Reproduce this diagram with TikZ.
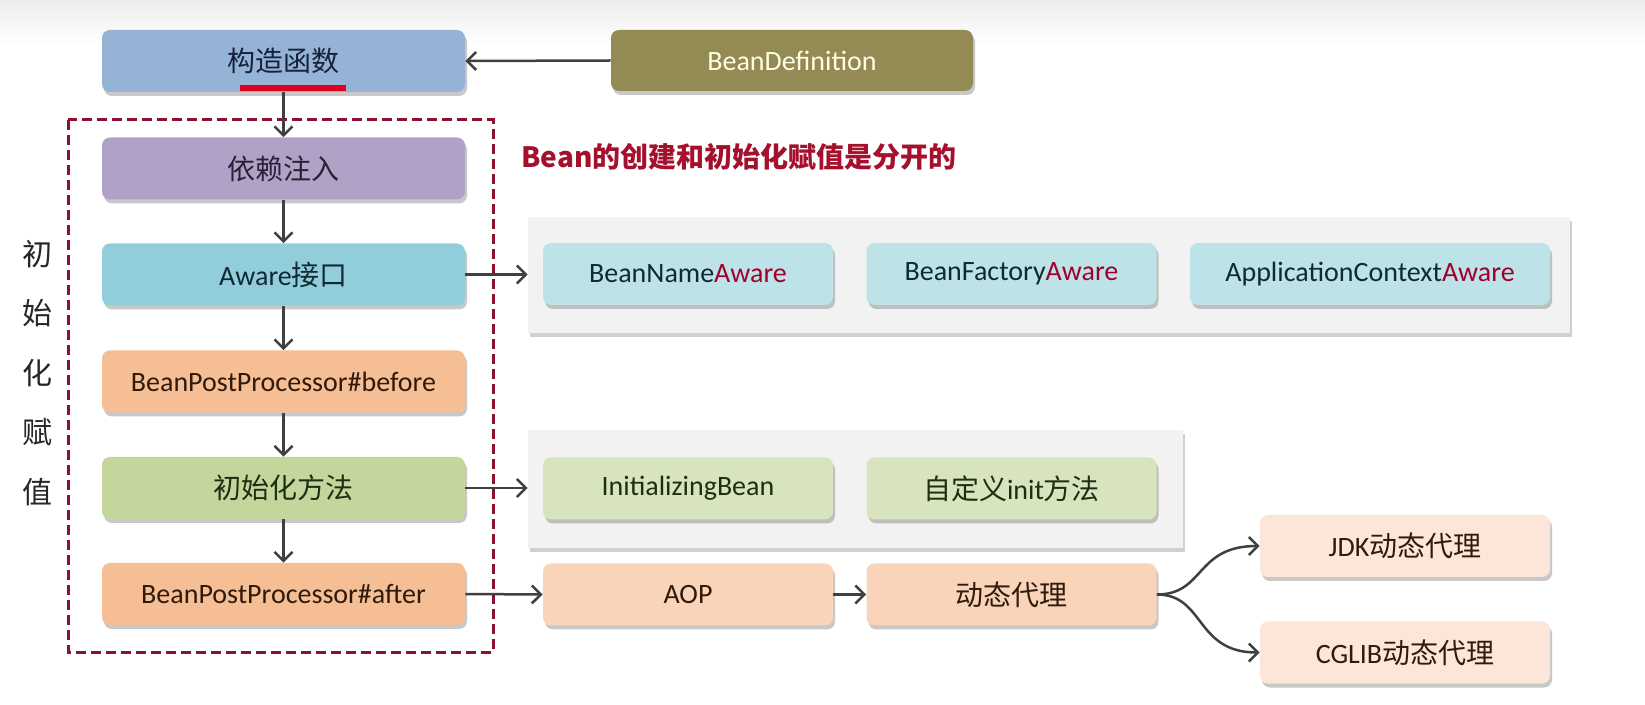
\documentclass[tikz,border=0pt]{standalone}
\usepackage{fontspec}
\setmainfont{Carlito}
\newfontfamily\cjk{Noto Sans CJK SC}
\usetikzlibrary{arrows.meta,shadows}
\definecolor{cGou}{HTML}{95B3D7}
\definecolor{cYi}{HTML}{B2A1C7}
\definecolor{cAw}{HTML}{92CDDC}
\definecolor{cBpp}{HTML}{F6BE94}
\definecolor{cInit}{HTML}{C3D69B}
\definecolor{cBd}{HTML}{948A54}
\definecolor{cAwS}{HTML}{BDE2E8}
\definecolor{cInS}{HTML}{D7E4BD}
\definecolor{cPe}{HTML}{F9D4B8}
\definecolor{cPl}{HTML}{FCE6DA}
\definecolor{cPanel}{HTML}{F2F2F2}
\definecolor{cDash}{HTML}{8E0F2E}
\definecolor{cTitle}{HTML}{A5102C}
\definecolor{cRedW}{HTML}{A0002A}
\definecolor{cArrow}{HTML}{404040}
\definecolor{cLine}{HTML}{E0001B}
\definecolor{tBlue}{HTML}{16223A}
\definecolor{tPurp}{HTML}{2A1F33}
\definecolor{tCyan}{HTML}{0F2A33}
\definecolor{tBrown}{HTML}{301A0C}
\definecolor{tGreen}{HTML}{1E2E12}
\begin{document}
\begin{tikzpicture}[x=0.5pt,y=-0.5pt,
  box/.style={rounded corners=4pt, minimum height=31pt, inner sep=0pt,
    font=\fontsize{14pt}{16pt}\selectfont,
    drop shadow={shadow xshift=1pt, shadow yshift=-2pt, opacity=0.3, fill=black!70}},
  lbox/.style={box, minimum width=181.5pt},
  sbox/.style={box, minimum width=145pt},
  panel/.style={fill=cPanel, inner sep=0pt,
    drop shadow={shadow xshift=1pt, shadow yshift=-2pt, opacity=0.3, fill=black!60}},
  arr/.style={draw=cArrow, line width=1.25pt, -{Straight Barb[length=4.5pt,width=9pt,line width=1.25pt]}}
]
\useasboundingbox (0,0) rectangle (1645,705);
\fill[white] (0,0) rectangle (1645,705);
\shade[top color=black!7, bottom color=white] (0,0) rectangle (1645,45);

% panels
\node[panel, minimum width=521pt, minimum height=58pt] (p1) at (1049,275) {};
\node[panel, minimum width=327.5pt, minimum height=59pt] (p2) at (855.5,489) {};

% dashed frame
\draw[cDash, line width=1.5pt, dash pattern=on 5pt off 2.5pt] (68,120) rectangle (493,652);

% left column
\node[lbox, fill=cGou, text=tBlue] (gz) at (283.5,61) {\cjk 构造函数};
\node[lbox, fill=cYi, text=tPurp] (yl) at (283.5,168.5) {\cjk 依赖注入};
\node[lbox, fill=cAw, text=tCyan] (aw) at (283.5,274.5) {Aware{\cjk 接口}};
\node[lbox, fill=cBpp, text=tBrown] (bb) at (283.5,381.5) {BeanPostProcessor\#before};
\node[lbox, fill=cInit, text=tGreen] (cs) at (283.5,488) {\cjk 初始化方法};
\node[lbox, fill=cBpp, text=tBrown] (ba) at (283.5,594) {BeanPostProcessor\#after};

\node[box, fill=cBd, minimum width=181pt, minimum height=30.5pt, text=yellow!10] (bd) at (792,60.5) {BeanDefinition};

% red underline
\draw[cLine, line width=3pt] (240,88) -- (346,88);

% title
\node[font=\cjk\bfseries\fontsize{14pt}{16pt}\selectfont, text=cTitle] (title) at (739,157) {Bean的创建和初始化赋值是分开的};

% vertical label
\node[font=\cjk\fontsize{15pt}{29.7pt}\selectfont, text=black!85, align=center] (vl) at (37,373) {初\\始\\化\\赋\\值};

% aware subs
\node[sbox, fill=cAwS, text=tCyan] (bna) at (688,274) {BeanName\textcolor{cRedW}{Aware}};
\node[sbox, fill=cAwS, text=tCyan] (bfa) at (1011.5,274) {BeanFactory\textcolor{cRedW}{Aware}};
\node[box, minimum width=180pt, fill=cAwS, text=tCyan] (aca) at (1370,274) {ApplicationContext\textcolor{cRedW}{Aware}};

% init subs
\node[sbox, fill=cInS, text=tGreen] (ib) at (688,488.5) {InitializingBean};
\node[sbox, fill=cInS, text=tGreen] (zd) at (1011.5,488.5) {{\cjk 自定义}init{\cjk 方法}};

% aop row
\node[sbox, fill=cPe, text=tBrown] (aop) at (688,594.5) {AOP};
\node[sbox, fill=cPe, text=tBrown] (dt) at (1011.5,594.5) {\cjk 动态代理};
\node[sbox, fill=cPl, text=tBrown] (jdk) at (1405,546) {JDK{\cjk 动态代理}};
\node[sbox, fill=cPl, text=tBrown] (cg) at (1405,652.5) {CGLIB{\cjk 动态代理}};

% connectors
\draw[arr] (bd.west) -- (gz.east);
\draw[arr] (gz.south) -- (yl.north);
\draw[arr] (yl.south) -- (aw.north);
\draw[arr] (aw.south) -- (bb.north);
\draw[arr] (bb.south) -- (cs.north);
\draw[arr] (cs.south) -- (ba.north);
\draw[arr] (aw.east) -- (aw.east -| p1.west);
\draw[arr] (cs.east) -- (cs.east -| p2.west);
\draw[arr] (ba.east) -- (aop.west);
\draw[arr] (aop.east) -- (dt.west);
\draw[arr] (dt.east) .. controls (1205,594.5) and (1195,546) .. (jdk.west);
\draw[arr] (dt.east) .. controls (1205,594.5) and (1195,652.5) .. (cg.west);
\end{tikzpicture}
\end{document}
